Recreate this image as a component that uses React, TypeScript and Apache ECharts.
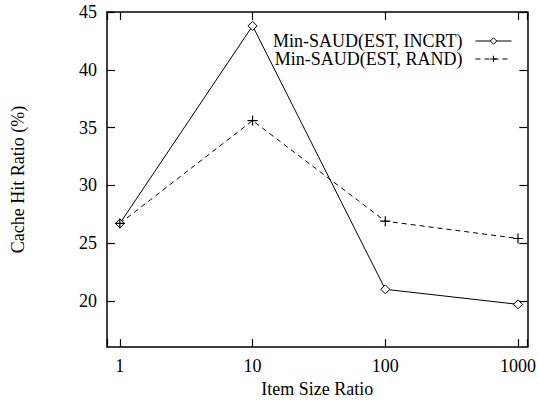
import React, { useEffect, useRef } from "react";
import * as echarts from "echarts";

const itemSizeRatios = [1, 10, 100, 1000];
const incrtValues = [26.7, 43.8, 21.0, 19.7];
const randValues = [26.7, 35.6, 26.9, 25.4];
const yTickValues = [20, 25, 30, 35, 40, 45];
const seriesNames = ["Min-SAUD(EST, INCRT)", "Min-SAUD(EST, RAND)"];
const xAxisTitle = "Item Size Ratio";
const yAxisTitle = "Cache Hit Ratio (%)";

const FONT = "'Liberation Serif', 'DejaVu Serif', serif";

export default function App() {
  const ref = useRef<HTMLDivElement>(null);
  useEffect(() => {
    if (!ref.current) return;
    const chart = echarts.init(ref.current, undefined, { renderer: "svg" });
    const isPow10 = (v: number) => {
      const l = Math.log10(v);
      return Math.abs(l - Math.round(l)) < 1e-6;
    };
    const axisLine = { show: true, lineStyle: { color: "#000", width: 1.5 } };
    const xCommon = {
      type: "log" as const,
      logBase: 10,
      min: 0.8,
      max: 1175,
      axisLine,
      axisTick: { show: true, inside: true, length: 8, lineStyle: { color: "#000", width: 1.2 } },
      splitLine: { show: false },
      minorTick: { show: false },
    };
    const yCommon = {
      type: "value" as const,
      min: 16,
      max: 45,
      axisLine,
      axisTick: { show: true, inside: true, length: 8, customValues: yTickValues, lineStyle: { color: "#000", width: 1.2 } },
      splitLine: { show: false },
    };
    chart.setOption({
      animation: false,
      backgroundColor: "#fff",
      textStyle: { fontFamily: FONT },
      grid: { left: 107, right: 9, top: 12, bottom: 52, containLabel: false },
      legend: {
        orient: "vertical",
        right: 27,
        top: 32,
        align: "right",
        itemWidth: 36,
        itemHeight: 8,
        itemGap: 0,
        padding: 0,
        lineStyle: { width: 1 },
        itemStyle: { borderWidth: 1 },
        textStyle: { fontFamily: FONT, fontSize: 18, lineHeight: 17, color: "#000", padding: [0, 8, 0, 0] },
        data: seriesNames,
      },
      xAxis: [
        {
          ...xCommon,
          position: "bottom",
          name: xAxisTitle,
          nameLocation: "middle",
          nameGap: 29,
          nameTextStyle: { fontFamily: FONT, fontSize: 18, color: "#000" },
          axisLabel: {
            fontFamily: FONT,
            fontSize: 18,
            color: "#000",
            margin: 10,
            formatter: (v: number) => (isPow10(v) ? String(Math.round(v)) : ""),
          },
        },
        { ...xCommon, position: "top", axisLabel: { show: false } },
      ],
      yAxis: [
        {
          ...yCommon,
          position: "left",
          name: yAxisTitle,
          nameLocation: "middle",
          nameGap: 80,
          nameRotate: 90,
          nameTextStyle: { fontFamily: FONT, fontSize: 18, color: "#000" },
          axisLabel: { fontFamily: FONT, fontSize: 18, color: "#000", margin: 10, customValues: yTickValues },
        },
        { ...yCommon, position: "right", axisLabel: { show: false } },
      ],
      series: [
        {
          name: seriesNames[0],
          type: "line",
          data: itemSizeRatios.map((x, i) => [x, incrtValues[i]]),
          symbol: "diamond",
          symbolSize: 9,
          showAllSymbol: true,
          lineStyle: { color: "#000", width: 1, type: "solid" },
          itemStyle: { color: "#fff", borderColor: "#000", borderWidth: 1 },
        },
        {
          name: seriesNames[1],
          type: "line",
          data: itemSizeRatios.map((x, i) => [x, randValues[i]]),
          symbol: "path://M5,0 L5,10 M0,5 L10,5",
          symbolSize: 10,
          showAllSymbol: true,
          lineStyle: { color: "#000", width: 1, type: [5, 4] },
          itemStyle: { color: "none", borderColor: "#000", borderWidth: 1.2 },
        },
      ],
    });
    return () => chart.dispose();
  }, []);
  return (
    <div
      ref={ref}
      style={{ position: "fixed", left: 0, top: 0, width: 539, height: 403, background: "#fff" }}
    />
  );
}
